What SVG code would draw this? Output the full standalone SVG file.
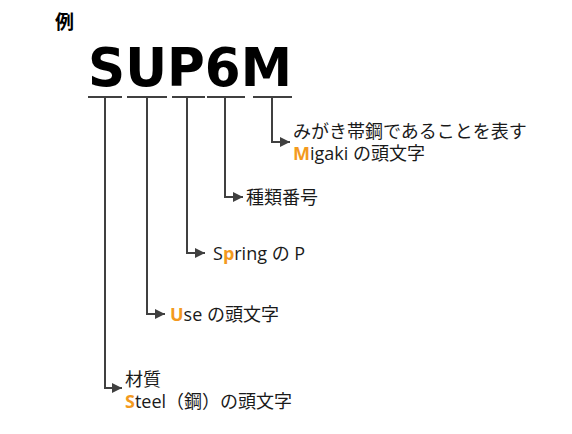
<svg xmlns="http://www.w3.org/2000/svg" width="572" height="434" viewBox="0 0 572 434">
<style>
.t{font-family:"Open Sans","Noto Sans CJK JP",sans-serif;font-size:18px;fill:#1a1a1a}
.o{fill:#F39A1E;font-weight:bold}
.c{fill:none;stroke:#404040;stroke-width:2}
</style>
<defs>
<marker id="ah" viewBox="0 0 10 10" refX="10" refY="5" markerWidth="5" markerHeight="5" markerUnits="strokeWidth" orient="auto">
<path d="M0,0 L10,5 L0,10 Z" fill="#404040"/>
</marker>
</defs>
<rect width="572" height="434" fill="#ffffff"/>
<g id="title">
<text x="55" y="29" style="font-family:'Noto Sans CJK JP',sans-serif;font-size:19px;font-weight:bold" fill="#000">例</text>
<text x="88" y="86" textLength="204" lengthAdjust="spacingAndGlyphs" style="font-family:'DejaVu Sans',sans-serif;font-size:53px;font-weight:bold" fill="#000">SUP6M</text>
</g>
<g id="connectors">
<path class="c" d="M88,97H122M127,97H167M172,97H205M207,97H245M253,97H292"/>
<path class="c" d="M105,97V388H122" marker-end="url(#ah)"/>
<path class="c" d="M147,97V314H165" marker-end="url(#ah)"/>
<path class="c" d="M187,97V253H205" marker-end="url(#ah)"/>
<path class="c" d="M225,97V197H243" marker-end="url(#ah)"/>
<path class="c" d="M272,97V142H290" marker-end="url(#ah)"/>
</g>
<g id="node-M">
<text class="t" x="293" y="138">みがき帯鋼であることを表す</text>
<text class="t" x="293" y="160"><tspan class="o">M</tspan>igaki の頭文字</text>
</g>
<g id="node-6">
<text class="t" x="246" y="204">種類番号</text>
</g>
<g id="node-P">
<text class="t" x="213" y="260">S<tspan class="o">p</tspan>ring の P</text>
</g>
<g id="node-U">
<text class="t" x="170" y="321"><tspan class="o">U</tspan>se の頭文字</text>
</g>
<g id="node-S">
<text class="t" x="125" y="386">材質</text>
<text class="t" x="125" y="408"><tspan class="o">S</tspan>teel（鋼）の頭文字</text>
</g>
</svg>
